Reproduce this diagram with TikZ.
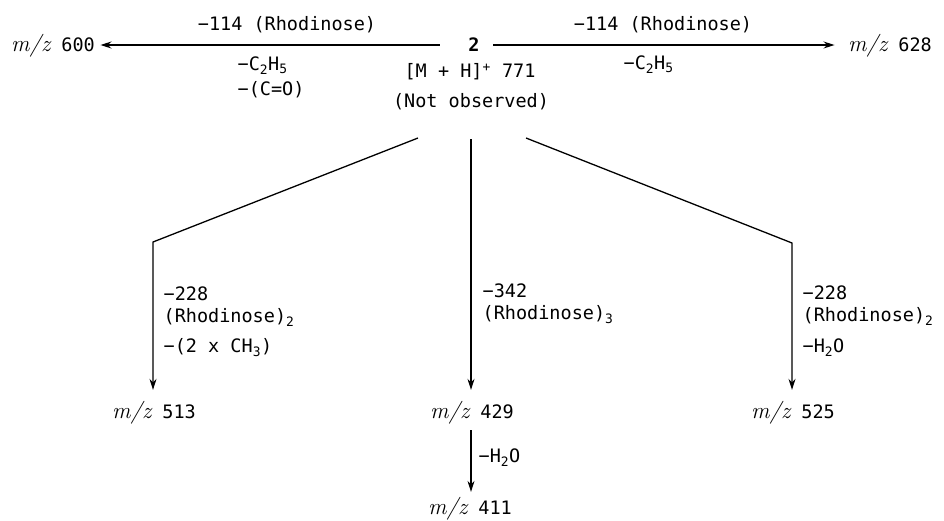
\documentclass[tikz,border=0pt]{standalone}
\usepackage{fontspec}
\setmonofont{DejaVu Sans Mono}
\usetikzlibrary{arrows.meta}
\newcommand{\mz}{{\rmfamily\itshape\fontsize{23}{22}\selectfont m/z}}

\begin{document}
\begin{tikzpicture}[x=1pt,y=-1pt,line width=1.3pt,
  font=\ttfamily\fontsize{18.5}{22}\selectfont,
  every node/.style={inner sep=0pt,text height=13pt,text depth=0pt},
  lbl/.style={anchor=west},
  tip/.style={-{Stealth[length=11pt,width=7pt]}}]
  \useasboundingbox (0,0) rectangle (944,520);
  \node (cpd) at (474,45) {\textbf{2}};
  \node (m600) at (53,45) {\mz{} 600};
  \node (m628) at (890,45) {\mz{} 628};
  \draw[tip,shorten <=28pt,shorten >=5pt] (cpd) -- (m600);
  \draw[tip,shorten <=13pt,shorten >=13pt] (cpd) -- (m628);
  \node at (287,24) {−114 (Rhodinose)};
  \node at (663,24) {−114 (Rhodinose)};
  \node[lbl] at (237,64) {−C\textsubscript{2}H\textsubscript{5}};
  \node[lbl] at (237,89) {−(C=O)};
  \node[lbl] at (623,63) {−C\textsubscript{2}H\textsubscript{5}};
  \node (ion) at (470,71) {[M + H]\textsuperscript{+} 771};
  \node (obs) at (471,101) {(Not observed)};

  \coordinate (forkl) at (418,138);
  \coordinate (forkc) at (471,139);
  \coordinate (forkr) at (526,138);
  \coordinate (bendl) at (153,242);
  \coordinate (bendr) at (792,243);
  \node (m513) at (154,412) {\mz{} 513};
  \node (m429) at (472,412) {\mz{} 429};
  \node (m525) at (793,412) {\mz{} 525};
  \node (m411) at (470,508) {\mz{} 411};
  \draw[tip,shorten >=15pt] (forkl) -- (bendl) -- (bendl |- m513.north);
  \draw[tip,shorten >=15pt] (forkc) -- (forkc |- m429.north);
  \draw[tip,shorten >=15pt] (forkr) -- (bendr) -- (bendr |- m525.north);
  \draw[tip,shorten <=11pt,shorten >=9pt] (forkc |- m429.south) -- (forkc |- m411.north);

  \node[lbl] at (163,294) {−228};
  \node[lbl] at (163,316) {(Rhodinose)\textsubscript{2}};
  \node[lbl] at (163,346) {−(2 x CH\textsubscript{3})};
  \node[lbl] at (482,291) {−342};
  \node[lbl] at (482,313) {(Rhodinose)\textsubscript{3}};
  \node[lbl] at (802,293) {−228};
  \node[lbl] at (802,315) {(Rhodinose)\textsubscript{2}};
  \node[lbl] at (802,346) {−H\textsubscript{2}O};
  \node[lbl] at (478,456) {−H\textsubscript{2}O};
\end{tikzpicture}
\end{document}
